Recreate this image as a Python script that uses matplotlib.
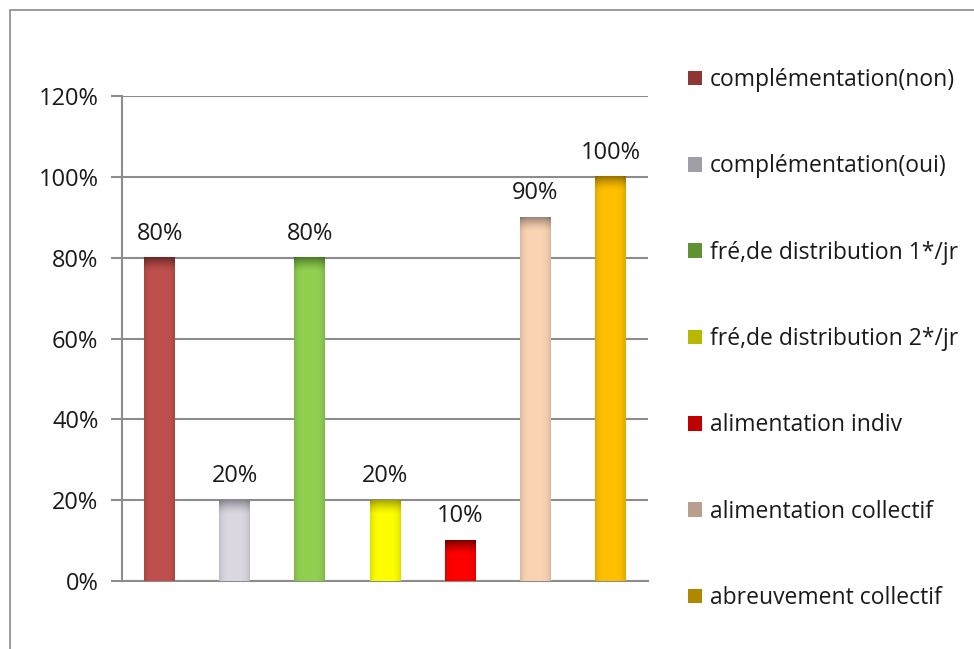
import matplotlib as mpl
mpl.use('Agg')
import matplotlib.pyplot as plt
from matplotlib.patches import Patch, Rectangle
from matplotlib.colors import to_rgb
import numpy as np

labels = ['complémentation(non)', 'complémentation(oui)', 'fré,de distribution 1*/jr',
          'fré,de distribution 2*/jr', 'alimentation indiv', 'alimentation collectif',
          'abreuvement collectif']
values = [0.8, 0.2, 0.8, 0.2, 0.1, 0.9, 1.0]
bar_colors = ['#C0504D', '#DCD8E2', '#92D050', '#FFFF00', '#FF0000', '#FBD4B4', '#FFC000']
top_colors = ['#6E2A28', '#8E8C94', '#4E7A2A', '#A8A800', '#7A0000', '#9C8676', '#9A7400']
legend_colors = ['#8E3634', '#A09EA6', '#5E9232', '#B8B800', '#C00000', '#B89E8C', '#B08800']

plt.rcParams['font.family'] = ['Open Sans', 'DejaVu Sans']

fig = plt.figure(figsize=(9.74, 6.49), dpi=100)
fig.add_artist(Rectangle((10 / 974, -0.5), 2, 0.5 + 1 - 10 / 649, transform=fig.transFigure,
                         fill=False, edgecolor='#8c8c8c', linewidth=1.2))
ax = fig.add_axes([122 / 974, 1 - 581 / 649, 526 / 974, 485 / 649])

ymax = 1.2
width = 0.41
axh_px = 485.0
for i, (v, c, tc) in enumerate(zip(values, bar_colors, top_colors)):
    hpx = max(int(round(v / ymax * axh_px)), 2)
    base = np.array(to_rgb(c))
    top = np.array(to_rgb(tc))
    rows = np.arange(hpx)[:, None]
    t = np.clip(1 - rows / 14.0, 0, 1) ** 1.5   # dark cap at the top
    cols = np.linspace(-1, 1, 31)[None, :]
    side = 1 - 0.12 * np.abs(cols) ** 4          # slightly darker edges
    img = (base * (1 - t[..., None]) + top * t[..., None]) * side[..., None]
    img = np.clip(img, 0, 1)
    ax.imshow(img, extent=(i - width / 2, i + width / 2, 0, v), aspect='auto',
              origin='upper', zorder=3, interpolation='bilinear')
    ax.text(i, v + 0.03, '{:.0f}%'.format(v * 100), ha='center', va='bottom',
            fontsize=17, color='#1a1a1a', zorder=4)

ax.set_xlim(-0.5, len(values) - 0.5)
ax.set_ylim(0, ymax)
ax.set_yticks(np.arange(0, 1.21, 0.2))
ax.set_yticklabels(['{:.0f}%'.format(y * 100) for y in np.arange(0, 1.21, 0.2)])
ax.set_xticks([])
ax.tick_params(axis='y', labelsize=17, length=8, color='#8c8c8c', width=1.5, pad=9,
               labelcolor='#1a1a1a')
ax.yaxis.grid(True, color='#8c8c8c', linewidth=1.5, zorder=0)
ax.set_axisbelow(True)
for s in ['top', 'right']:
    ax.spines[s].set_visible(False)
for s in ['left', 'bottom']:
    ax.spines[s].set_color('#8c8c8c')
    ax.spines[s].set_linewidth(1.5)

handles = [Patch(facecolor=c, edgecolor='none') for c in legend_colors]
fig.legend(handles, labels, loc='upper left', bbox_to_anchor=(688 / 974, 1 - 68 / 649),
           frameon=False, fontsize=16.5, labelspacing=2.72, handlelength=0.62,
           handleheight=0.62, handletextpad=0.35, borderpad=0, borderaxespad=0,
           labelcolor='#1a1a1a')

fig.savefig('out.png', dpi=100)
